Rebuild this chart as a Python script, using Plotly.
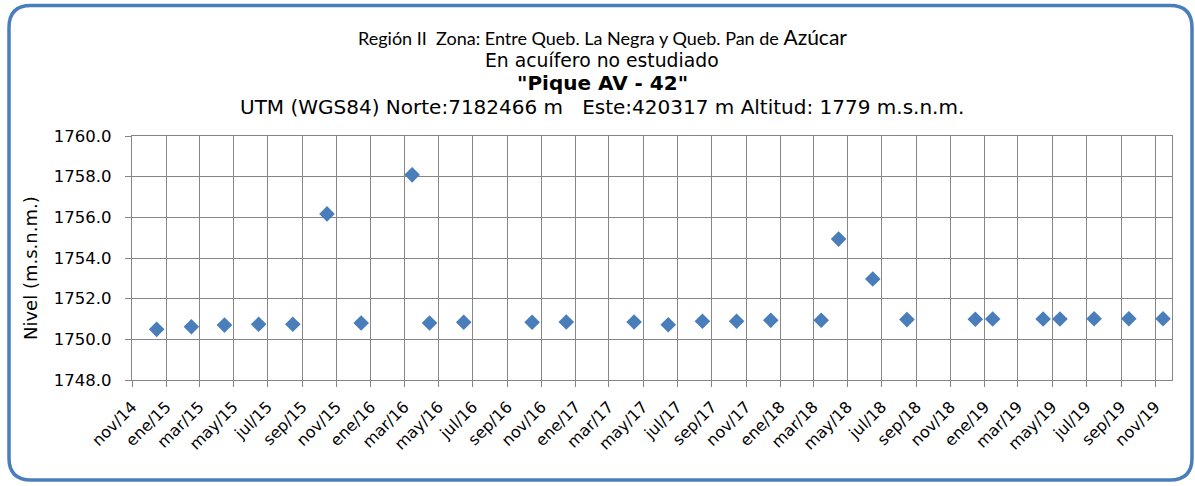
import plotly.graph_objects as go
import pandas as pd

# Measurement dates and water level (m.s.n.m.)
fechas = [
    "2014-12-15", "2015-02-15", "2015-04-15", "2015-06-15", "2015-08-15",
    "2015-10-15", "2015-12-15", "2016-03-15", "2016-04-15", "2016-06-15",
    "2016-10-15", "2016-12-15", "2017-04-15", "2017-06-15", "2017-08-15",
    "2017-10-15", "2017-12-15", "2018-03-15", "2018-04-15", "2018-06-15",
    "2018-08-15", "2018-12-15", "2019-01-15", "2019-04-15", "2019-05-15",
    "2019-07-15", "2019-09-15", "2019-11-15",
]
nivel = [
    1750.49, 1750.62, 1750.70, 1750.74, 1750.74,
    1756.17, 1750.80, 1758.09, 1750.80, 1750.84,
    1750.84, 1750.85, 1750.85, 1750.72, 1750.89,
    1750.89, 1750.94, 1750.94, 1754.93, 1752.97,
    1750.97, 1750.99, 1751.00, 1751.00, 1751.00,
    1751.01, 1751.01, 1751.01,
]

# Bi-monthly tick labels along the date axis
etiquetas_x = [
    "nov/14", "ene/15", "mar/15", "may/15", "jul/15", "sep/15",
    "nov/15", "ene/16", "mar/16", "may/16", "jul/16", "sep/16",
    "nov/16", "ene/17", "mar/17", "may/17", "jul/17", "sep/17",
    "nov/17", "ene/18", "mar/18", "may/18", "jul/18", "sep/18",
    "nov/18", "ene/19", "mar/19", "may/19", "jul/19", "sep/19",
    "nov/19",
]
fechas_ticks = pd.date_range("2014-11-01", periods=len(etiquetas_x), freq="2MS")

W, H = 1195, 486
ML, MR, MT, MB = 132, 23, 136, 106
PW, PH = W - ML - MR, H - MT - MB

AZUL = "#4a7ebb"
GRIS = "#868686"
FUENTE = "DejaVu Sans"


def px_x(px):
    return (px - ML) / PW


def px_y(py):
    return (H - MB - py) / PH


def marco_redondeado(x0, y0, x1, y1, r):
    # rounded rectangle path (pixel input) in paper coordinates
    pts = [
        ("M", x0 + r, y0), ("L", x1 - r, y0), ("Q", x1, y0, x1, y0 + r),
        ("L", x1, y1 - r), ("Q", x1, y1, x1 - r, y1),
        ("L", x0 + r, y1), ("Q", x0, y1, x0, y1 - r),
        ("L", x0, y0 + r), ("Q", x0, y0, x0 + r, y0),
    ]
    partes = []
    for p in pts:
        cmd, coords = p[0], p[1:]
        xy = []
        for i in range(0, len(coords), 2):
            xy.append(f"{px_x(coords[i]):.5f},{px_y(coords[i + 1]):.5f}")
        partes.append(cmd + " ".join(xy))
    return " ".join(partes) + " Z"


fig = go.Figure()
fig.add_trace(go.Scatter(
    x=fechas, y=nivel, mode="markers",
    marker=dict(symbol="diamond", size=12, color=AZUL, line=dict(width=0)),
    hoverinfo="x+y", showlegend=False,
))

xc = px_x(602)
titulos = [
    ("Región II  Zona: Entre Queb. La Negra y Queb. Pan de "
     "<span style='font-size:21px'>Azúcar</span>", 36, "Lato", 18),
    ("En acuífero no estudiado", 60, FUENTE, 18.8),
    ("<b>\"Pique AV - 42\"</b>", 83, FUENTE, 20),
    ("UTM (WGS84) Norte:7182466 m   Este:420317 m Altitud: 1779 m.s.n.m.",
     107, FUENTE, 20),
]
anot = []
for texto, py, fam, sz in titulos:
    anot.append(dict(
        text=texto, xref="paper", yref="paper", x=xc, y=px_y(py),
        xanchor="center", yanchor="middle", showarrow=False,
        font=dict(family=fam, size=sz, color="#000000"),
    ))
anot.append(dict(
    text="Nivel (m.s.n.m.)", xref="paper", yref="paper",
    x=px_x(30), y=px_y(268), xanchor="center", yanchor="middle",
    textangle=-90, showarrow=False,
    font=dict(family=FUENTE, size=18, color="#000000"),
))

fig.update_layout(
    width=W, height=H,
    margin=dict(l=ML, r=MR, t=MT, b=MB),
    paper_bgcolor="white", plot_bgcolor="white",
    annotations=anot,
    shapes=[dict(
        type="path", xref="paper", yref="paper",
        path=marco_redondeado(9, 5.5, 1192, 480, 22),
        line=dict(color=AZUL, width=3.5), layer="above",
    )],
)

fig.update_xaxes(
    type="date", range=["2014-11-01", "2019-12-01"],
    tickvals=fechas_ticks, ticktext=etiquetas_x, tickangle=-45,
    tickfont=dict(family=FUENTE, size=16, color="#000000"),
    ticklabelstandoff=4,
    showgrid=True, gridcolor=GRIS, gridwidth=1.3,
    showline=True, linecolor=GRIS, linewidth=1.3, mirror=True,
    ticks="outside", ticklen=6, tickcolor=GRIS, tickwidth=1.3,
    zeroline=False,
)
fig.update_yaxes(
    range=[1748, 1760], dtick=2, tick0=1748, tickformat=".1f",
    tickfont=dict(family=FUENTE, size=16.5, color="#000000"),
    ticklabelstandoff=10,
    showgrid=True, gridcolor=GRIS, gridwidth=1.3,
    showline=True, linecolor=GRIS, linewidth=1.3, mirror=True,
    ticks="outside", ticklen=6, tickcolor=GRIS, tickwidth=1.3,
    zeroline=False,
)

fig.write_html("out.html")
